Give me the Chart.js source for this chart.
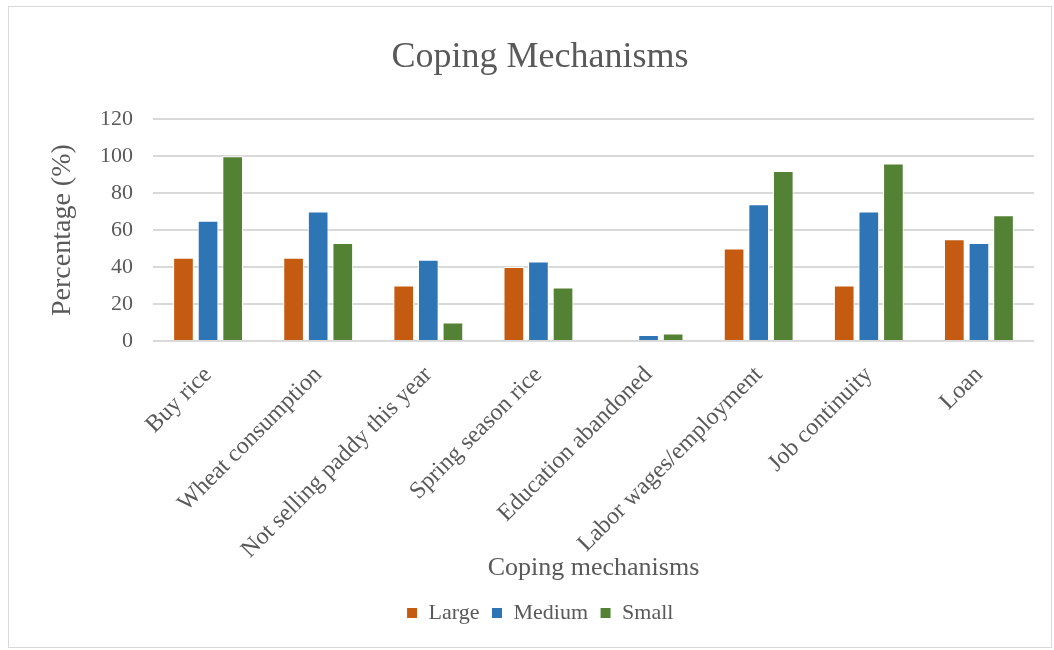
<!DOCTYPE html>
<html>
<head>
<meta charset="utf-8">
<script src="https://cdn.jsdelivr.net/npm/chart.js@4/dist/chart.umd.min.js"></script>
<style>
  body { margin: 0; background: #fff; }
  #frame { position: absolute; left: 8px; top: 6px; width: 1044px; height: 642px; border: 1px solid #d9d9d9; box-sizing: border-box; }
  #chart { position: absolute; left: 0; top: 0; }
</style>
</head>
<body>
<div id="frame"><canvas id="chart" width="1042" height="640"></canvas></div>
<script>
const categories = ['Buy rice', 'Wheat consumption', 'Not selling paddy this year', 'Spring season rice',
  'Education abandoned', 'Labor wages/employment', 'Job continuity', 'Loan'];
const large = [45, 45, 30, 40, 0, 50, 30, 55];
const medium = [65, 70, 44, 43, 3.3, 74, 70, 53];
const small = [100, 53, 10, 29, 4, 92, 96, 68];

const serif = 'Liberation Serif';
const grey = '#595959';

const ctx = document.getElementById('chart').getContext('2d');
new Chart(ctx, {
    type: 'bar',
    data: {
        labels: categories,
        datasets: [
            { label: 'Large', data: large, backgroundColor: '#C55A11', borderColor: '#ffffff', borderWidth: 1 },
            { label: 'Medium', data: medium, backgroundColor: '#2E75B6', borderColor: '#ffffff', borderWidth: 1 },
            { label: 'Small', data: small, backgroundColor: '#548235', borderColor: '#ffffff', borderWidth: 1 }
        ]
    },
    options: {
        responsive: false,
        animation: false,
        categoryPercentage: 0.67,
        barPercentage: 0.84,
        layout: { padding: { left: 37, right: 17, top: 0, bottom: 13 } },
        plugins: {
            title: {
                display: true,
                text: 'Coping Mechanisms',
                color: grey,
                font: { family: serif, size: 36, weight: 'normal' },
                padding: { top: 29, bottom: 40 }
            },
            legend: {
                position: 'bottom',
                labels: {
                    color: grey,
                    font: { family: serif, size: 22 },
                    boxWidth: 11,
                    boxHeight: 11,
                    padding: 12
                }
            },
            tooltip: { enabled: false }
        },
        scales: {
            x: {
                grid: { display: false },
                border: { display: false },
                afterFit: (scale) => { scale.height = 249; },
                ticks: {
                    color: grey,
                    font: { family: serif, size: 24 },
                    maxRotation: 45,
                    minRotation: 45,
                    autoSkip: false,
                    padding: 12
                },
                title: {
                    display: true,
                    text: 'Coping mechanisms',
                    color: grey,
                    font: { family: serif, size: 26 },
                    padding: { top: 0, bottom: 6 }
                }
            },
            y: {
                min: 0,
                max: 120,
                afterFit: (scale) => { scale.width = 107; },
                ticks: {
                    stepSize: 20,
                    color: grey,
                    font: { family: serif, size: 22 },
                    padding: 20
                },
                grid: { color: '#d9d9d9', lineWidth: 2, drawTicks: false },
                border: { display: false },
                title: {
                    display: true,
                    text: 'Percentage (%)',
                    color: grey,
                    font: { family: serif, size: 28 },
                    padding: 0
                }
            }
        }
    }
});
</script>
</body>
</html>
